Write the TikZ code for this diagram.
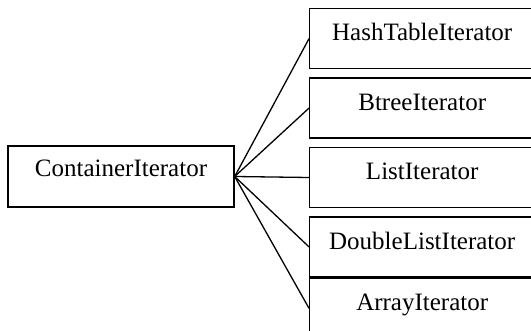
\documentclass[tikz,border=0pt]{standalone}
\usepackage{fontspec}
\setmainfont{Liberation Serif}
\usetikzlibrary{positioning}
\begin{document}
\begin{tikzpicture}[x=1pt,y=-1pt,
      cls/.style={draw,line width=1.4pt,minimum width=225pt,minimum height=60pt,inner sep=0pt,
                  font=\fontsize{25}{28}\selectfont,text height=16.5pt,text depth=12pt},
      link/.style={line width=1.3pt}]
    \useasboundingbox (0,0) rectangle (531,331);
    \node[cls,minimum width=226pt,minimum height=61pt,text depth=17pt] (cont) at (121,176.5) {ContainerIterator};
    \node[cls,anchor=north west] (hash) at (309,8) {HashTableIterator};
    \node[cls,below=8pt of hash] (btree) {BtreeIterator};
    \node[cls,below=8pt of btree] (list) {ListIterator};
    \node[cls,below=8pt of list] (dlist) {DoubleListIterator};
    \node[cls,below=0pt of dlist] (array) {ArrayIterator};
    \foreach \y in {hash,btree,list,dlist,array} \draw[link] (cont.east) -- (\y.west);
  \end{tikzpicture}
\end{document}
